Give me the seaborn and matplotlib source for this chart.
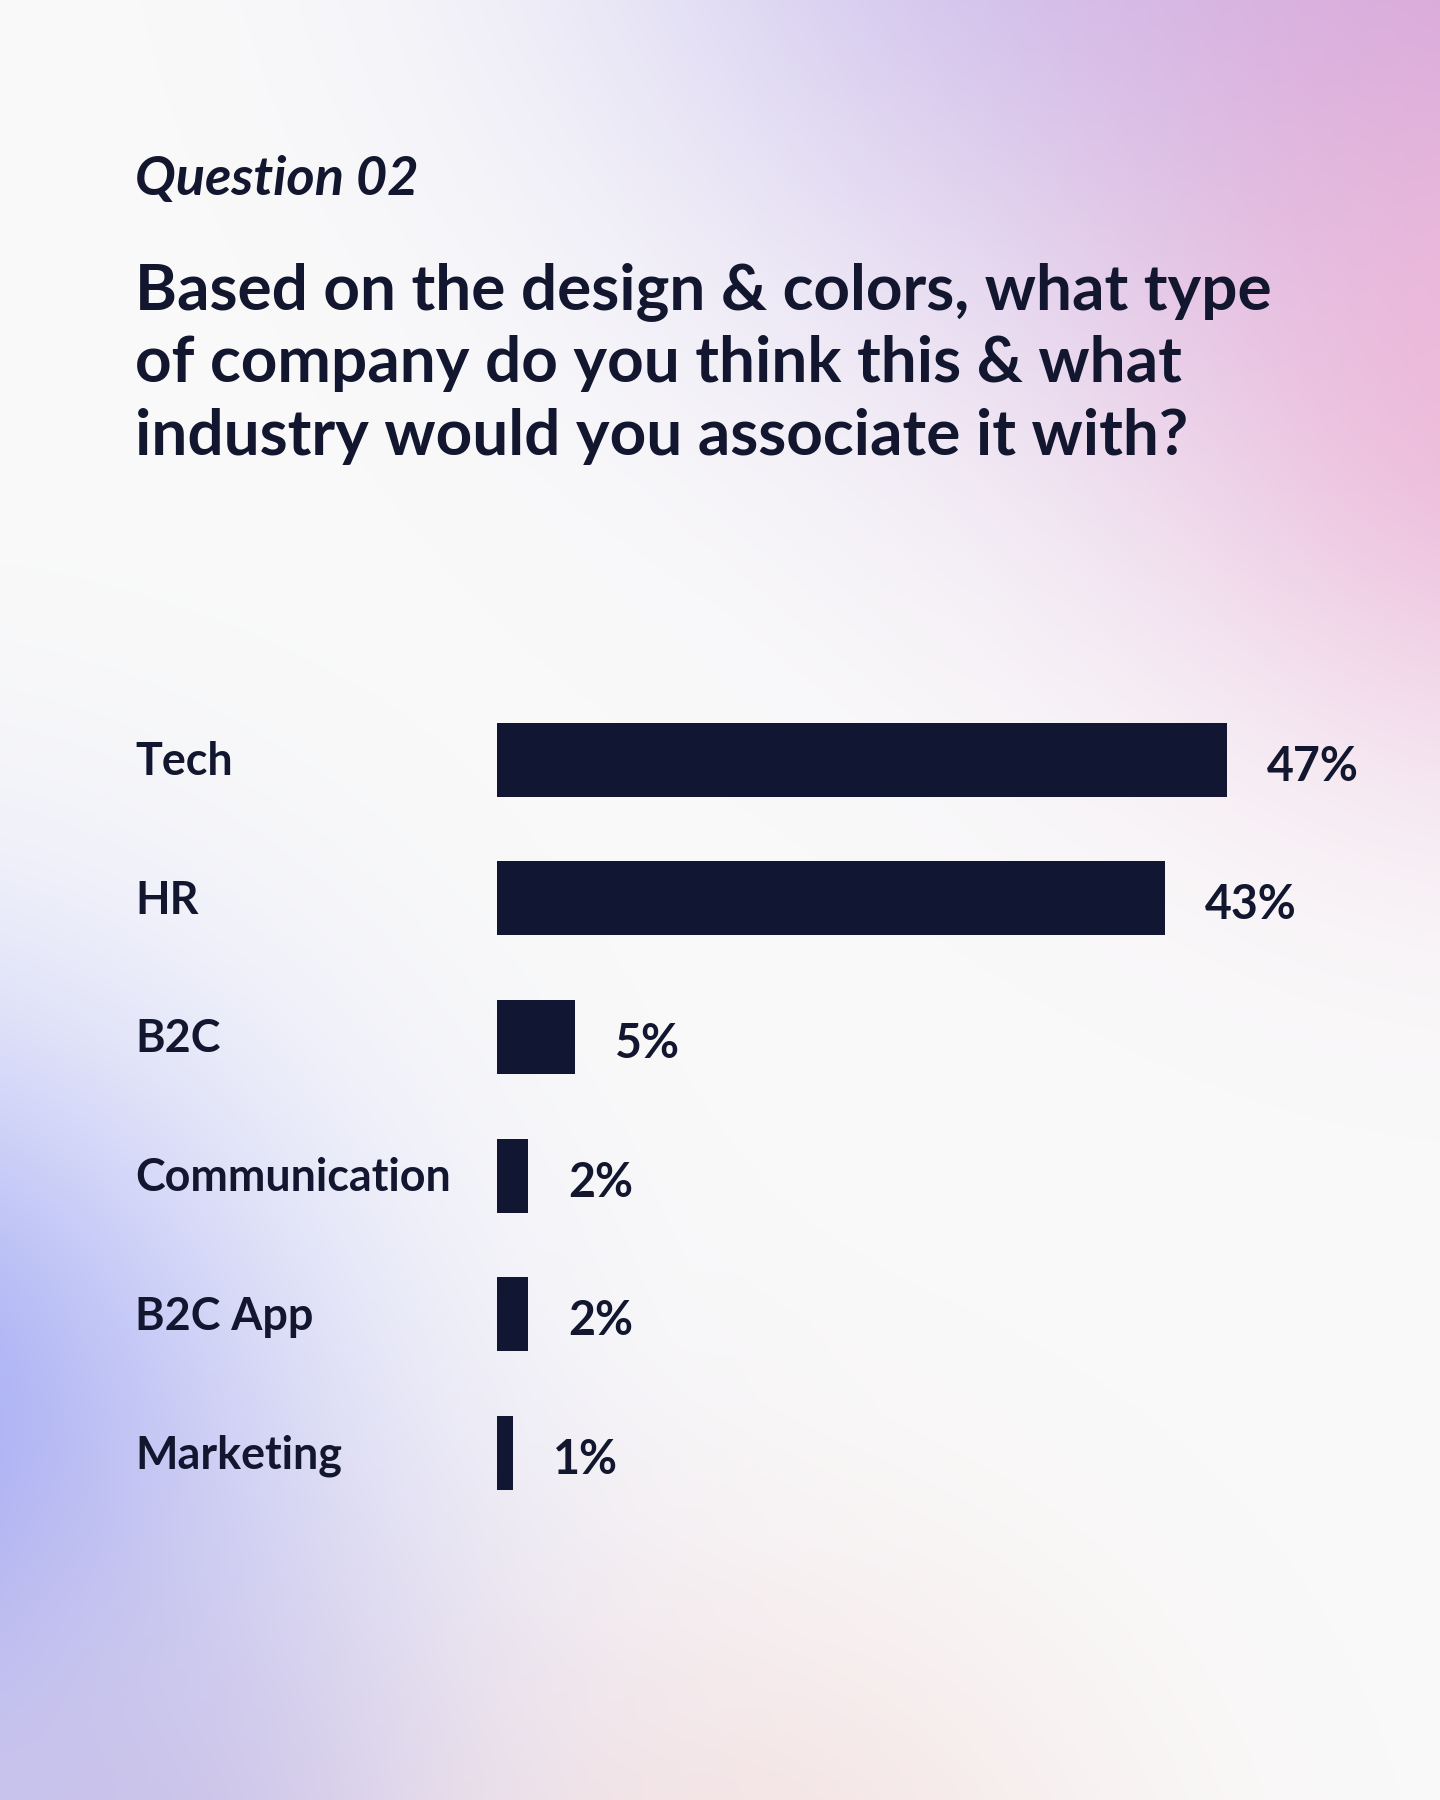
import numpy as np
import pandas as pd
import matplotlib
matplotlib.use("Agg")
import matplotlib.pyplot as plt
import matplotlib.transforms as mtransforms
import seaborn as sns

# ---- data ----
categories = ["Tech", "HR", "B2C", "Communication", "B2C App", "Marketing"]
shares = [47, 43, 5, 2, 2, 1]
value_labels = ["47%", "43%", "5%", "2%", "2%", "1%"]
kicker = "Question 02"
title_lines = [
    "Based on the design & colors, what type",
    "of company do you think this & what",
    "industry would you associate it with?",
]

# ---- style ----
sns.set_theme(style="white")
FONT = ["Lato", "DejaVu Sans"]
plt.rcParams["font.family"] = FONT
INK = "#12172f"
BAR = "#111733"

W, H, DPI = 1440, 1800, 100
fig = plt.figure(figsize=(W / DPI, H / DPI), dpi=DPI)

# ---- soft gradient background ----
yy, xx = np.mgrid[0:H, 0:W].astype(float)
img = np.ones((H, W, 3)) * (250 / 255.0)
blobs = [
    ((1050, -220), 470, "#c9c6f3", 0.95),
    ((1520, -60), 520, "#d4a8dc", 1.0),
    ((1560, 380), 360, "#efb4d6", 0.85),
    ((-160, 1450), 430, "#a2aaf6", 1.0),
    ((150, 1900), 380, "#c3bbe8", 0.85),
    ((750, 1960), 380, "#f3dcdc", 0.75),
]
for (cx, cy), r, col, amp in blobs:
    rgb = np.array(matplotlib.colors.to_rgb(col))
    a = amp * np.exp(-((xx - cx) ** 2 + (yy - cy) ** 2) / (r ** 2))
    img = img * (1 - a[..., None]) + rgb * a[..., None]
bg = fig.add_axes([0, 0, 1, 1], zorder=0)
bg.imshow(img, aspect="auto", extent=(0, W, H, 0), interpolation="bilinear")
bg.set_axis_off()

# ---- texts ----
def fx(px):
    return px / W

def fy(py):
    return 1 - py / H

fig.text(fx(135), fy(195), kicker, fontsize=39, fontweight="bold", style="italic",
         color=INK, family=FONT, va="baseline", ha="left", zorder=3)
for i, line in enumerate(title_lines):
    fig.text(fx(135), fy(309 + 73 * i), line, fontsize=46, fontweight="bold",
             color=INK, family=FONT, va="baseline", ha="left", zorder=3)

# ---- bar chart ----
pitch = 138.7
top_center = 759.6
ax_top = top_center - pitch / 2
ax_h = pitch * len(categories)
ax_left = 497
ax_w = W - ax_left
ax = fig.add_axes([fx(ax_left), fy(ax_top + ax_h), ax_w / W, ax_h / H], zorder=2)
ax.patch.set_alpha(0)

df = pd.DataFrame({"category": categories, "share": shares})
sns.barplot(data=df, x="share", y="category", orient="h", color=BAR,
            saturation=1, width=74 / pitch, ax=ax, linewidth=0)

px_per_unit = 730 / 47
ax.set_xlim(0, ax_w / px_per_unit)
ax.set_ylim(len(categories) - 0.5, -0.5)
for s in ax.spines.values():
    s.set_visible(False)
ax.set_xticks([])
ax.set_yticks([])
ax.set_xlabel("")
ax.set_ylabel("")

trans = mtransforms.blended_transform_factory(fig.transFigure, ax.transData)
for i, (cat, v, lab) in enumerate(zip(categories, shares, value_labels)):
    ax.text(fx(135), i + 15.5 / pitch, cat, transform=trans, fontsize=32.3,
            fontweight="bold", color=INK, family=FONT, va="baseline", ha="left")
    ax.annotate(lab, xy=(v, i + 21 / pitch), xytext=(40 * 72 / DPI, 0),
                textcoords="offset points", fontsize=33.5, fontweight="bold",
                color=INK, family=FONT, va="baseline", ha="left",
                annotation_clip=False)

fig.savefig("out.png", dpi=DPI)
